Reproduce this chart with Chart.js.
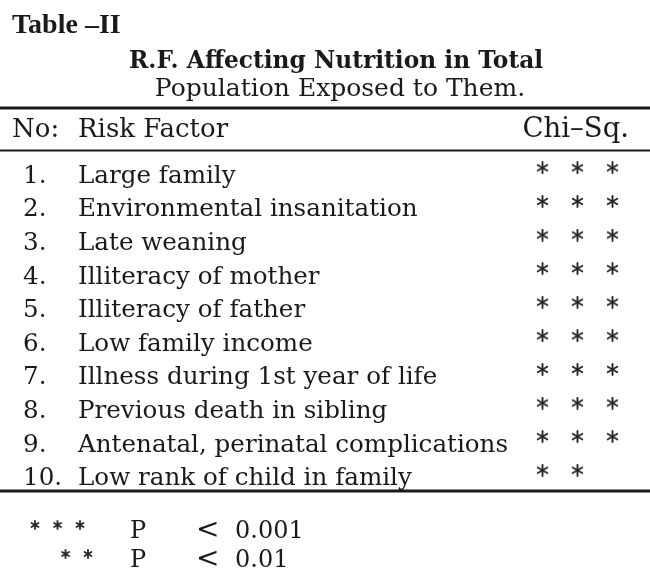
<!DOCTYPE html>
<html>
<head>
<meta charset="utf-8">
<title>Table II</title>
<script src="https://cdn.jsdelivr.net/npm/chart.js@4.4.0/dist/chart.umd.min.js"></script>
<style>
    html, body { margin: 0; padding: 0; background: #fff; }
    #wrap { width: 650px; height: 579px; position: relative; }
</style>
</head>
<body>
<div id="wrap"><canvas id="tableChart"></canvas></div>
<script>
// Table content
const tableTitle = 'Table –II';
const captionLines = ['R.F. Affecting Nutrition in Total', 'Population Exposed to Them.'];
const headers = ['No:', 'Risk Factor', 'Chi–Sq.'];
const rowNumbers = ['1.', '2.', '3.', '4.', '5.', '6.', '7.', '8.', '9.', '10.'];
const riskFactors = [
    'Large family',
    'Environmental insanitation',
    'Late weaning',
    'Illiteracy of mother',
    'Illiteracy of father',
    'Low family income',
    'Illness during 1st year of life',
    'Previous death in sibling',
    'Antenatal, perinatal complications',
    'Low rank of child in family'
];
// number of asterisks in the Chi-Sq. column
const chiSqStars = [3, 3, 3, 3, 3, 3, 3, 3, 3, 2];

// Footnote
const legendStars = [3, 2];
const legendSymbols = ['P', 'P'];
const legendSigns = ['<', '<'];
const legendLevels = ['0.001', '0.01'];

const ink = '#1a1a1a';
const serif = '"DejaVu Serif", "Liberation Serif", serif';

// six-spoke asterisk used as point style
function makeAsterisk(size, lineWidth) {
    const c = document.createElement('canvas');
    c.width = size;
    c.height = size;
    const g = c.getContext('2d');
    const r = size / 2 - 1;
    g.strokeStyle = '#262626';
    g.lineWidth = lineWidth;
    g.lineCap = 'round';
    [90, 30, 150].forEach(deg => {
        const a = deg * Math.PI / 180;
        g.beginPath();
        g.moveTo(size / 2 - r * Math.cos(a), size / 2 - r * Math.sin(a));
        g.lineTo(size / 2 + r * Math.cos(a), size / 2 + r * Math.sin(a));
        g.stroke();
    });
    return c;
}

const bigStar = makeAsterisk(13, 1.9);
const smallStar = makeAsterisk(10, 1.8);

// star points: column k for each asterisk in a row
const starPoints = [];
chiSqStars.forEach((count, row) => {
    for (let k = 1; k <= count; k++) {
        starPoints.push({ x: k, y: row });
    }
});

const tablePlugin = {
    id: 'tableText',
    beforeDraw(chart) {
        const ctx = chart.ctx;
        ctx.save();
        ctx.fillStyle = '#ffffff';
        ctx.fillRect(0, 0, chart.width, chart.height);
        ctx.restore();
    },
    afterDraw(chart) {
        const ctx = chart.ctx;
        const yScale = chart.scales.y;
        const w = chart.width;
        ctx.save();
        ctx.fillStyle = ink;
        ctx.textBaseline = 'alphabetic';

        // title and caption
        ctx.font = 'bold 28px "Liberation Serif", serif';
        ctx.textAlign = 'left';
        ctx.fillText(tableTitle, 12, 33);

        ctx.textAlign = 'center';
        ctx.font = 'bold 23.3px ' + serif;
        ctx.fillText(captionLines[0], 336, 68);
        ctx.font = '25px ' + serif;
        ctx.fillText(captionLines[1], 340, 96);

        // rules
        ctx.strokeStyle = ink;
        [[108, 2.8], [150.5, 2.2], [491, 2.8]].forEach(([y, lw]) => {
            ctx.lineWidth = lw;
            ctx.beginPath();
            ctx.moveTo(0, y);
            ctx.lineTo(w, y);
            ctx.stroke();
        });

        // header row
        ctx.font = '26px ' + serif;
        ctx.textAlign = 'left';
        ctx.fillText(headers[0], 12, 137);
        ctx.fillText(headers[1], 78, 137);
        ctx.textAlign = 'right';
        ctx.font = '27.5px ' + serif;
        ctx.fillText(headers[2], 629, 137);

        // body rows
        ctx.font = '24.6px ' + serif;
        ctx.textAlign = 'left';
        riskFactors.forEach((label, i) => {
            const y = yScale.getPixelForValue(i) + 15;
            ctx.fillText(rowNumbers[i], 23, y);
            ctx.fillText(label, 78, y);
        });

        // footnote
        ctx.font = '24px ' + serif;
        const legendY = [538, 567];
        legendStars.forEach((count, i) => {
            const y = legendY[i];
            const right = i === 0 ? 80 : 88;
            for (let k = 0; k < count; k++) {
                const cx = right - (count - 1 - k) * 22.5;
                ctx.drawImage(smallStar, cx - smallStar.width / 2, y - 13 - smallStar.height / 2);
            }
            ctx.fillText(legendSymbols[i], 130, y);
            ctx.font = '28px ' + serif;
            ctx.fillText(legendSigns[i], 196, y);
            ctx.font = '24px ' + serif;
            ctx.fillText(legendLevels[i], 235, y);
        });
        ctx.restore();
    }
};

new Chart(document.getElementById('tableChart'), {
    type: 'scatter',
    data: {
        datasets: [{
            label: 'Chi-Sq.',
            data: starPoints,
            pointStyle: bigStar,
            pointRadius: 6,
            pointHoverRadius: 6
        }]
    },
    options: {
        responsive: true,
        maintainAspectRatio: false,
        animation: false,
        events: [],
        layout: {
            padding: { left: 525, right: 20, top: 151, bottom: 92 }
        },
        plugins: {
            legend: { display: false },
            tooltip: { enabled: false }
        },
        scales: {
            x: { type: 'linear', min: 0.5, max: 3.5, display: false },
            y: { type: 'linear', min: -0.5, max: 9.5, reverse: true, display: false }
        }
    },
    plugins: [tablePlugin]
});
</script>
</body>
</html>
